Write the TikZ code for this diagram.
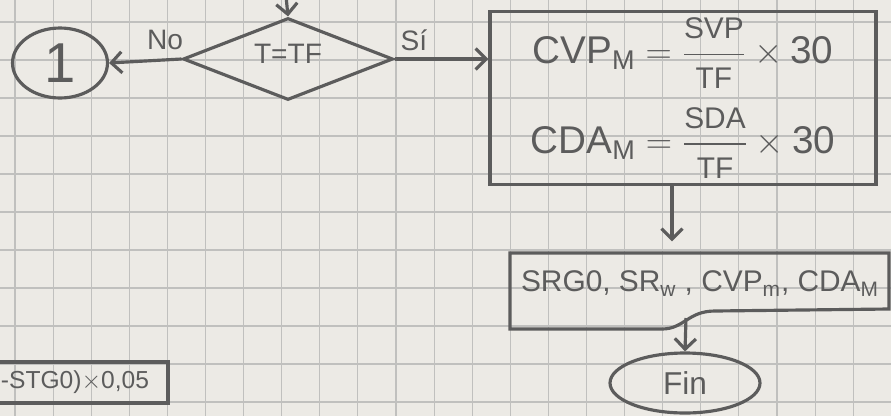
\documentclass[tikz,border=0pt]{standalone}
\usepackage{amsmath}
\usepackage{fontspec}
\setmainfont{Liberation Sans}
\usetikzlibrary{shapes.geometric, arrows.meta}
\definecolor{paper}{RGB}{236,234,229}
\definecolor{gridgray}{RGB}{192,192,190}
\definecolor{pencil}{RGB}{92,92,92}
\newcommand{\fr}[2]{\dfrac{\text{\fontsize{17}{19}\selectfont #1}}{\text{\fontsize{17}{19}\selectfont #2}}}
\tikzstyle{gridline}=[draw=gridgray, line width=0.6pt]
\tikzstyle{stroke}=[draw=pencil, line width=1.8pt, text=pencil]
\tikzstyle{flow}=[stroke, -{Straight Barb[length=6pt,width=12pt]}]
\tikzstyle{decision}=[diamond, stroke, aspect=2.56, minimum width=4.2cm, minimum height=1.64cm, inner sep=0pt, font=\fontsize{16}{18}\selectfont]
\tikzstyle{connector}=[ellipse, stroke, minimum width=1.9cm, minimum height=1.4cm, inner sep=0pt, font=\fontsize{32}{34}\selectfont]
\tikzstyle{terminal}=[ellipse, stroke, minimum width=3cm, minimum height=1.2cm, inner sep=0pt, font=\fontsize{18}{20}\selectfont]
\tikzstyle{process}=[rectangle, stroke, align=center, inner sep=0pt]
\tikzstyle{tag}=[text=pencil, font=\fontsize{16}{18}\selectfont]

\begin{document}
\begin{tikzpicture}[x=0.02cm, y=-0.02cm]
  \useasboundingbox (0,0) rectangle (891,416);
  \fill[paper] (0,0) rectangle (891,416);
  \clip (0,0) rectangle (891,416);
  % squared paper
  \foreach \i in {0,...,23}
    \draw[gridline] (15+38.1*\i,0) -- (15+38.1*\i,416);
  \foreach \j in {0,...,10}
    \draw[gridline] (0,22+38*\j) -- (891,22+38*\j);

  \coordinate (entry) at (286,-4);
  \node[decision] (test) at (288,59) {\raisebox{6pt}{T=TF}};
  \node[connector] (one) at (60,63) {1};
  \node[process, minimum width=7.72cm, minimum height=3.46cm,
        font=\fontsize{22}{24}\selectfont] (calc) at (683,98)
    {$\mathrm{CVP}_{\mathrm{M}} = \fr{SVP}{TF} \times \mathrm{30}$\\[10pt]
     $\mathrm{CDA}_{\mathrm{M}} = \fr{SDA}{TF} \times \mathrm{30}$};
  \node[process, draw=none, minimum width=7.6cm, minimum height=1.54cm,
        text height=0.45cm, text depth=0.45cm,
        font=\fontsize{17}{19}\selectfont] (show) at (700,291.5)
    {SRG0, SR$_{\mathrm{w}}$ , CVP$_{\mathrm{m}}$, CDA$_{\mathrm{M}}$};
  \node[terminal] (fin) at (685,383) {Fin};
  \node[process, minimum width=3.72cm, minimum height=0.82cm,
        font=\fontsize{14}{16}\selectfont] (prev) at (75,382.5)
    {-STG0)$\times$0,05};

  % printout outline
  \draw[stroke] (889,253) -- (510,253) -- (510,329) -- (662,329)
    .. controls (684,329) and (688,311) .. (715,311) -- (889,309) -- cycle;
  \coordinate (wave) at (686,318);

  \draw[flow] (entry) -- (test.north);
  \draw[flow] (test.west) -- (one.east);
  \node[tag] (no) at (165,40) {No};
  \draw[flow] (test.east) -- (test.east -| calc.west);
  \node[tag] (si) at (414,40) {Sí};
  \draw[flow, shorten >=5.7pt] ([xshift=-0.22cm]calc.south) -- ([xshift=-0.22cm]calc.south |- show.north);
  \draw[flow] (wave) -- (fin.north);
\end{tikzpicture}
\end{document}
